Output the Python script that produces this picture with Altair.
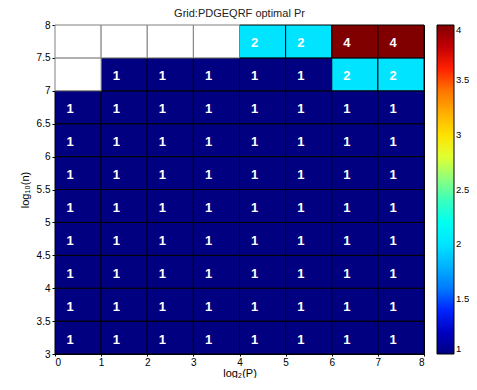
import altair as alt
import pandas as pd

xs = [0, 1, 2, 3, 4, 5, 6, 7]
ys = [3.0, 3.5, 4.0, 4.5, 5.0, 5.5, 6.0, 6.5, 7.0, 7.5]
y_ticks = [3, 3.5, 4, 4.5, 5, 5.5, 6, 6.5, 7, 7.5, 8]
x_ticks = [0, 1, 2, 3, 4, 5, 6, 7, 8]
# values per row (y), columns x=0..7; None = no data (white)
row_values = {
    3.0: [1, 1, 1, 1, 1, 1, 1, 1],
    3.5: [1, 1, 1, 1, 1, 1, 1, 1],
    4.0: [1, 1, 1, 1, 1, 1, 1, 1],
    4.5: [1, 1, 1, 1, 1, 1, 1, 1],
    5.0: [1, 1, 1, 1, 1, 1, 1, 1],
    5.5: [1, 1, 1, 1, 1, 1, 1, 1],
    6.0: [1, 1, 1, 1, 1, 1, 1, 1],
    6.5: [1, 1, 1, 1, 1, 1, 1, 1],
    7.0: [None, 1, 1, 1, 1, 1, 2, 2],
    7.5: [None, None, None, None, 2, 2, 4, 4],
}

rows = []
for y in ys:
    for x, v in zip(xs, row_values[y]):
        rows.append({"x": x, "x2": x + 1, "y": y, "y2": y + 0.5,
                     "v": v, "tx": x + 0.25, "ty": y + 0.22,
                     "label": "" if v is None else str(v)})
df = pd.DataFrame(rows)
have = df[df["v"].notna()]
missing = df[df["v"].isna()]

font = "Liberation Sans"
xscale = alt.Scale(domain=[0, 8], nice=False, zero=False)
yscale = alt.Scale(domain=[3, 8], nice=False, zero=False)

jet_domain = [1, 1.375, 2.125, 2.875, 3.625, 4]
jet_range = ["#000080", "#0000ff", "#00ffff", "#ffff00", "#ff0000", "#800000"]

xaxis = alt.Axis(values=x_ticks, title="log₂(P)", grid=False,
                 labelFontSize=10, titleFontSize=11, titleFontWeight="normal",
                 labelFont=font, titleFont=font, domainColor="black",
                 tickColor="black", tickSize=2, labelColor="black",
                 titleColor="black", titlePadding=0, labelPadding=1,
                 labelOverlap=False)
yaxis = alt.Axis(values=y_ticks,
                 title="log₁₀(n)", grid=False, labelFontSize=10,
                 titleFontSize=11, titleFontWeight="normal", labelFont=font,
                 titleFont=font, domainColor="black", tickColor="black",
                 tickSize=3, labelColor="black", titleColor="black",
                 titlePadding=6, labelPadding=2, format="~g",
                 labelOverlap=False, labelFlush=False)

cells = alt.Chart(have).mark_rect(stroke="black", strokeWidth=1).encode(
    x=alt.X("x:Q", scale=xscale, axis=xaxis),
    x2="x2:Q",
    y=alt.Y("y:Q", scale=yscale, axis=yaxis),
    y2="y2:Q",
    color=alt.Color("v:Q",
                    scale=alt.Scale(domain=jet_domain, range=jet_range),
                    legend=alt.Legend(
                        title=None, orient="none", legendX=382, legendY=0,
                        direction="vertical", gradientLength=329,
                        gradientThickness=17, values=[1, 1.5, 2, 2.5, 3, 3.5, 4],
                        labelFontSize=9.5, labelFont=font, labelColor="black",
                        gradientStrokeColor="black", gradientStrokeWidth=1,
                        labelOverlap=False, format="~g", labelOffset=2)),
)

blank = alt.Chart(missing).mark_rect(fill="white", stroke="#808080",
                                      strokeWidth=1).encode(
    x=alt.X("x:Q", scale=xscale, axis=xaxis), x2="x2:Q",
    y=alt.Y("y:Q", scale=yscale, axis=yaxis), y2="y2:Q",
)

labels = alt.Chart(have).mark_text(color="white", fontWeight="bold",
                                   fontSize=13, font=font, align="left",
                                   baseline="middle").encode(
    x=alt.X("tx:Q", scale=xscale, axis=xaxis),
    y=alt.Y("ty:Q", scale=yscale, axis=yaxis),
    text="label:N",
)

chart = alt.layer(cells, blank, labels).properties(
    width=369, height=329,
    title=alt.Title("Grid:PDGEQRF optimal Pr", fontSize=11, font=font,
                    fontWeight="normal", color="#222222", offset=5, dy=4,
                    frame="group"),
    autosize=alt.AutoSizeParams(type="none"),
    padding={"left": 47, "top": 17, "right": 45, "bottom": 24},
).configure_view(stroke="black", strokeWidth=1).configure_axis(
    labelOverlap=False)

chart.save("out.html", embed_options={"renderer": "svg", "actions": False})
